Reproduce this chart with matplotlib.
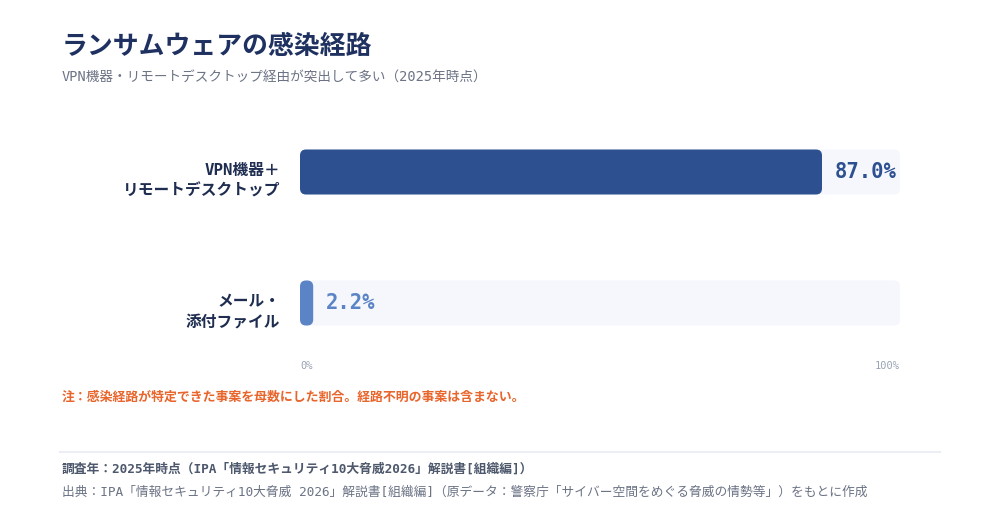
import numpy as np
import matplotlib
matplotlib.use('Agg')
import matplotlib.pyplot as plt
from matplotlib.patches import FancyBboxPatch
from matplotlib import transforms

# === data ===
categories = ['VPN機器＋\nリモートデスクトップ', 'メール・\n添付ファイル']
values = [87.0, 2.2]
value_labels = ['87.0%', '2.2%']
bar_colors = ['#2d5090', '#5b84c6']
tick_labels = ['0%', '100%']

title = 'ランサムウェアの感染経路'
subtitle = 'VPN機器・リモートデスクトップ経由が突出して多い（2025年時点）'
note = '注：感染経路が特定できた事案を母数にした割合。経路不明の事案は含まない。'
survey = '調査年：2025年時点（IPA「情報セキュリティ10大脅威2026」解説書[組織編]）'
source = '出典：IPA「情報セキュリティ10大脅威 2026」解説書[組織編]（原データ：警察庁「サイバー空間をめぐる脅威の情勢等」）をもとに作成'

FAM = ['DejaVu Sans Mono', 'Noto Sans CJK JP']
plt.rcParams['font.family'] = FAM

W, H = 1000, 520
fig = plt.figure(figsize=(W / 100, H / 100), dpi=100)
fig.patch.set_facecolor('white')


def fx(px):
    return px / W


def fy(py):
    return 1 - py / H


# === header ===
fig.text(fx(62), fy(47), title, fontsize=18.6, fontweight='bold',
         color='#1e3160', va='center', ha='left')
fig.text(fx(62), fy(78), subtitle, fontsize=9.8, color='#6b7384',
         va='center', ha='left')

# === bar area: 0% at x=300px, 100% at x=900px ===
row_gap = 131
top = 172 - row_gap / 2
bottom = 303 + row_gap / 2
ax = fig.add_axes([fx(300), fy(bottom), fx(600), (bottom - top) / H])
ax.set_xlim(0, 100)
ax.set_ylim(len(values) - 0.5, -0.5)
ax.axis('off')

bar_h = 45 / row_gap
r = 1.0  # rounding in x units (6 px)
aspect = (6 / row_gap)

for i, (v, c) in enumerate(zip(values, bar_colors)):
    track = FancyBboxPatch((0, i - bar_h / 2), 100, bar_h,
                           boxstyle=f'round,pad=0,rounding_size={r}',
                           mutation_aspect=aspect, fc='#f5f7fc', ec='none', zorder=1)
    ax.add_patch(track)
    bar = FancyBboxPatch((0, i - bar_h / 2), v, bar_h,
                         boxstyle=f'round,pad=0,rounding_size={min(r, v / 2)}',
                         mutation_aspect=aspect, fc=c, ec='none', zorder=2)
    ax.add_patch(bar)
    ax.annotate(value_labels[i], xy=(v, i), xytext=(13, 0), textcoords='offset pixels',
                ha='left', va='center', fontsize=14.8, fontweight='bold', color=c,
                family=FAM, zorder=3)
    ax.annotate(categories[i], xy=(0, i), xytext=(-20, -9), textcoords='offset pixels',
                ha='right', va='center', fontsize=11.3, fontweight='bold',
                color='#1e2d50', linespacing=1.45, family=FAM)

# axis ticks as text
trans = transforms.blended_transform_factory(ax.transData, fig.transFigure)
ax.text(0, fy(366), tick_labels[0], transform=trans, ha='left', va='center',
        fontsize=7.5, color='#9aa2b4')
ax.text(100, fy(366), tick_labels[1], transform=trans, ha='right', va='center',
        fontsize=7.5, color='#9aa2b4')

# === note & footer ===
fig.text(fx(62), fy(397), note, fontsize=9.3, fontweight='bold',
         color='#e8652c', va='center', ha='left')
fig.add_artist(plt.Line2D([fx(60), fx(940)], [fy(452), fy(452)],
                          color='#eceef5', lw=1.5))
fig.text(fx(62), fy(469), survey, fontsize=9.2, fontweight='bold',
         color='#4d586c', va='center', ha='left')
fig.text(fx(62), fy(492), source, fontsize=9.2, color='#6b7384',
         va='center', ha='left')

fig.savefig('out.png', dpi=100, facecolor='white')
